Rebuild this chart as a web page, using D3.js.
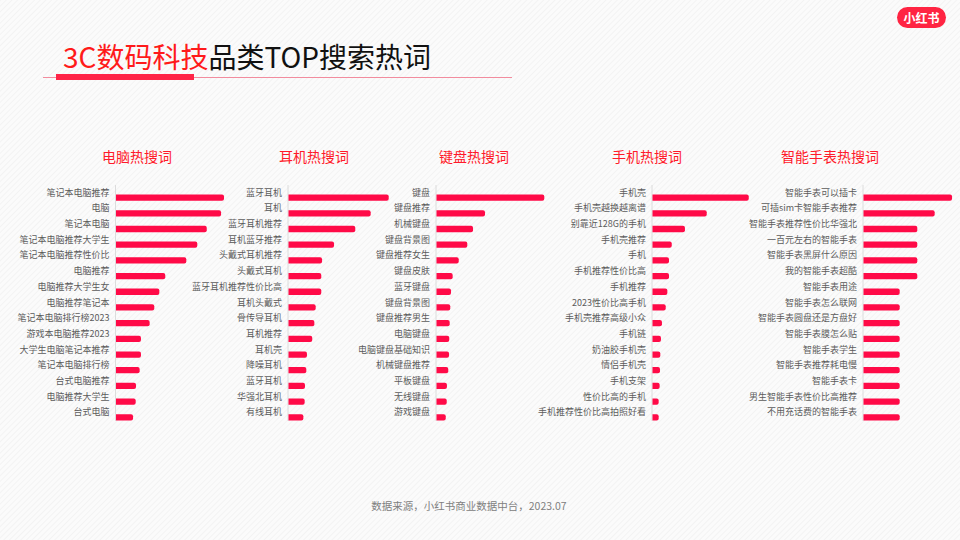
<!DOCTYPE html>
<html>
<head>
<meta charset="utf-8">
<script src="https://cdn.jsdelivr.net/npm/d3@7/dist/d3.min.js"></script>
<style>
html,body{margin:0;padding:0;background:#fafafa;}
svg{display:block;}
text{font-family:"Noto Sans CJK SC","Noto Sans",sans-serif;}
</style>
</head>
<body>
<svg id="chart" width="960" height="540"></svg>
<script>
// ---------- data ----------
const panelTitles = ["电脑热搜词", "耳机热搜词", "键盘热搜词", "手机热搜词", "智能手表热搜词"];

const pcLabels = ["笔记本电脑推荐","电脑","笔记本电脑","笔记本电脑推荐大学生","笔记本电脑推荐性价比","电脑推荐","电脑推荐大学生女","电脑推荐笔记本","笔记本电脑排行榜2023","游戏本电脑推荐2023","大学生电脑笔记本推荐","笔记本电脑排行榜","台式电脑推荐","电脑推荐大学生","台式电脑"];
const pcValues = [98.2, 95.5, 82.5, 73.9, 63.9, 44.8, 39.4, 34.8, 30.6, 22.7, 22.7, 21.5, 18.2, 17.9, 15.5];

const earLabels = ["蓝牙耳机","耳机","蓝牙耳机推荐","耳机蓝牙推荐","头戴式耳机推荐","头戴式耳机","蓝牙耳机推荐性价比高","耳机头戴式","骨传导耳机","耳机推荐","耳机壳","降噪耳机","蓝牙耳机","华强北耳机","有线耳机"];
const earValues = [91.1, 74.7, 60.7, 41.4, 30.5, 29.8, 29.8, 24.7, 23.5, 21.6, 16.8, 16.2, 15.0, 14.7, 13.5];

const kbLabels = ["键盘","键盘推荐","机械键盘","键盘背景图","键盘推荐女生","键盘皮肤","蓝牙键盘","键盘背景图","键盘推荐男生","电脑键盘","电脑键盘基础知识","机械键盘推荐","平板键盘","无线键盘","游戏键盘"];
const kbValues = [98.0, 44.1, 33.2, 28.0, 20.2, 14.7, 13.2, 12.5, 12.0, 11.6, 11.4, 10.7, 9.5, 9.3, 8.4];

const phoneLabels = ["手机壳","手机壳越换越离谱","别靠近128G的手机","手机壳推荐","手机","手机推荐性价比高","手机推荐","2023性价比高手机","手机壳推荐高级小众","手机链","奶油胶手机壳","情侣手机壳","手机支架","性价比高的手机","手机推荐性价比高拍照好看"];
const phoneValues = [87.5, 49.3, 29.5, 17.5, 15.0, 15.0, 13.5, 12.0, 8.6, 7.7, 7.1, 6.8, 6.5, 5.6, 5.6];

const watchLabels = ["智能手表可以插卡","可插sim卡智能手表推荐","智能手表推荐性价比华强北","一百元左右的智能手表","智能手表黑屏什么原因","我的智能手表超酷","智能手表用途","智能手表怎么联网","智能手表圆盘还是方盘好","智能手表膜怎么贴","智能手表学生","智能手表推荐耗电慢","智能手表卡","男生智能手表性价比高推荐","不用充话费的智能手表"];
const watchValues = [80.5, 64.7, 48.9, 48.9, 48.9, 48.9, 32.9, 32.9, 32.9, 32.9, 32.9, 32.9, 32.9, 32.9, 32.9];

const titleRed = "3C数码科技";
const titleBlack = "品类TOP搜索热词";
const footerText = "数据来源，小红书商业数据中台，2023.07";
const logoText = "小红书";

// ---------- layout ----------
const panelAxisX = [116, 288.5, 436.5, 652.5, 863.5];
const panelTitleX = [137, 314, 474, 647, 830];
const BAR = "#ff0a47";

const svg = d3.select("#chart");

// background pattern
const defs = svg.append("defs");
const pat = defs.append("pattern").attr("id","bg").attr("width",4).attr("height",4)
  .attr("patternUnits","userSpaceOnUse").attr("patternTransform","rotate(45)");
pat.append("rect").attr("width",4).attr("height",4).attr("fill","#fbfbfb");
pat.append("rect").attr("width",1).attr("height",4).attr("fill","#f3f3f3");
svg.append("rect").attr("width",960).attr("height",540).attr("fill","url(#bg)");

// logo
svg.append("rect").attr("x",897).attr("y",7).attr("width",49).attr("height",21).attr("rx",10.5).attr("fill","#ff2442");
svg.append("text").attr("x",921.5).attr("y",17.5).attr("text-anchor","middle").attr("dominant-baseline","central")
  .attr("fill","#fff").attr("font-size",12).attr("font-weight","bold").text(logoText);

// title
const t = svg.append("text").attr("x",63).attr("y",56).attr("dominant-baseline","central").attr("font-size",28);
t.append("tspan").attr("fill","#ff1a1a").text(titleRed);
t.append("tspan").attr("fill","#111").text(titleBlack);

svg.append("line").attr("x1",43).attr("x2",512).attr("y1",77.5).attr("y2",77.5).attr("stroke","#f28c9e").attr("stroke-width",1);
svg.append("rect").attr("x",56).attr("y",74).attr("width",138).attr("height",6).attr("fill","#ff2447");

// panels
const panels = [
  [pcLabels, pcValues], [earLabels, earValues], [kbLabels, kbValues],
  [phoneLabels, phoneValues], [watchLabels, watchValues]
];

const x = d3.scaleLinear().domain([0, 100]).range([0, 110]);
const yC = d3.scalePoint().domain(d3.range(15)).range([197.6, 417.3]);
const barH = 6.3;

panels.forEach(([labels, values], pi) => {
  const ax = panelAxisX[pi];
  const g = svg.append("g");
  g.append("text").attr("x", panelTitleX[pi]).attr("y", 155.7).attr("text-anchor","middle")
    .attr("dominant-baseline","central").attr("font-size",14).attr("fill","#ff1a2a").text(panelTitles[pi]);
  g.append("line").attr("x1", ax - 0.5).attr("x2", ax - 0.5).attr("y1", 185).attr("y2", 421)
    .attr("stroke","#dcdcdc").attr("stroke-width",1);
  const data = labels.map((l, i) => ({l, v: values[i], i}));
  g.selectAll("path.bar").data(data).join("path").attr("class","bar")
    .attr("fill", BAR)
    .attr("d", d => {
      const x0 = ax, x1 = ax + x(d.v), y0 = yC(d.i) - barH/2, y1 = yC(d.i) + barH/2, r = 2;
      return `M${x0},${y0}H${x1 - r}Q${x1},${y0} ${x1},${y0 + r}V${y1 - r}Q${x1},${y1} ${x1 - r},${y1}H${x0}Z`;
    });
  g.selectAll("text.lab").data(data).join("text").attr("class","lab")
    .attr("x", ax - 6.5).attr("y", d => yC(d.i) - 5.4).attr("text-anchor","end")
    .attr("dominant-baseline","central").attr("font-size",9).attr("fill","#5c5c5c").text(d => d.l);
});

// footer
svg.append("text").attr("x",469).attr("y",505.7).attr("text-anchor","middle").attr("dominant-baseline","central")
  .attr("font-size",10.5).attr("fill","#808080").text(footerText);
</script>
</body>
</html>
